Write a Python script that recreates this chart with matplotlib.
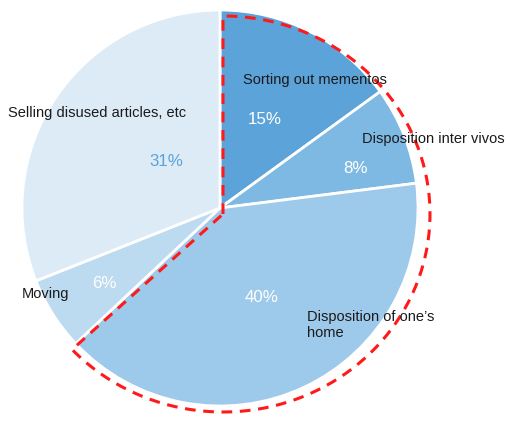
import numpy as np
import matplotlib.pyplot as plt
from matplotlib.path import Path
from matplotlib.patches import PathPatch

plt.rcParams['font.family'] = ['Liberation Sans', 'DejaVu Sans']

labels = ['Sorting out mementos', 'Disposition inter vivos', 'Disposition of one\u2019s\nhome',
          'Moving', 'Selling disused articles, etc']
shares = [15, 8, 40, 6, 31]
colors = ['#5ba3d9', '#7eb9e3', '#9dc9ea', '#bcdaf0', '#ddebf7']
pct_colors = ['white', 'white', 'white', 'white', '#5ba3d9']

# where each name and percentage goes (pixel positions, y measured from top)
label_pos = [(243, 80), (362, 139), (307, 325), (22, 294), (8, 113)]
pct_pos = [(265, 119), (355, 168), (262, 297), (104, 284), (166, 161)]

W, H = 508, 428
fig = plt.figure(figsize=(W / 100, H / 100), dpi=100)
ax = fig.add_axes([0, 0, 1, 1])

cx, cy, r = 220, H - 208, 198
ax.pie(shares, colors=colors, startangle=90, counterclock=False,
       center=(cx, cy), radius=r, frame=True,
       wedgeprops=dict(edgecolor='white', linewidth=2))
ax.set_xlim(0, W)
ax.set_ylim(0, H)
ax.set_aspect('equal')
ax.axis('off')

for (x, y), txt in zip(label_pos, labels):
    ax.text(x, H - y, txt, fontsize=10.5, color='#1a1a1a', ha='left', va='center',
            linespacing=1.25)
for (x, y), s, c in zip(pct_pos, shares, pct_colors):
    ax.text(x, H - y, f'{s}%', fontsize=12.2, color=c, ha='center', va='center')

# red dashed outline round the first three slices
frac = sum(shares[:3]) / sum(shares)
t = np.radians(np.linspace(90, 90 - 360 * frac, 200))
ex, ey, rx, ry = 223, H - 214, 207, 198
verts = [(ex, ey)] + list(zip(ex + rx * np.cos(t), ey + ry * np.sin(t))) + [(ex, ey)]
codes = [Path.MOVETO] + [Path.LINETO] * (len(verts) - 1)
ax.add_patch(PathPatch(Path(verts, codes), fill=False, edgecolor='#ff1a1a',
                       linewidth=2.2, linestyle=(0, (3.5, 2.5))))

fig.savefig('out.png', dpi=100)
